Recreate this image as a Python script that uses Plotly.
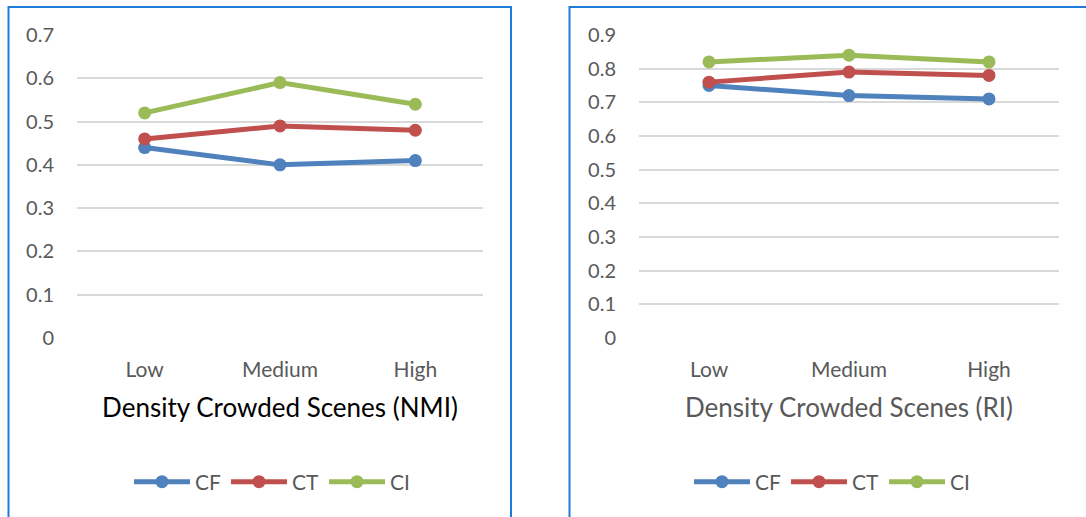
import plotly.graph_objects as go

categories = ["Low", "Medium", "High"]
series_names = ["CF", "CT", "CI"]
nmi_cf = [0.44, 0.40, 0.41]
nmi_ct = [0.46, 0.49, 0.48]
nmi_ci = [0.52, 0.59, 0.54]
ri_cf = [0.75, 0.72, 0.71]
ri_ct = [0.76, 0.79, 0.78]
ri_ci = [0.82, 0.84, 0.82]
colors = ["#4F81BD", "#C0504D", "#9BBB59"]
nmi_ticks = [0, 0.1, 0.2, 0.3, 0.4, 0.5, 0.6, 0.7]
ri_ticks = [0, 0.1, 0.2, 0.3, 0.4, 0.5, 0.6, 0.7, 0.8, 0.9]

W, H = 1086, 517
FONT = "Lato"
GRAY = "#595959"

def px(x):
    return x / W

def py(y):
    return 1 - y / H

fig = go.Figure()

for name, vals, col in zip(series_names, [nmi_cf, nmi_ct, nmi_ci], colors):
    fig.add_trace(go.Scatter(x=categories, y=vals, name=name, mode="lines+markers",
                             line=dict(color=col, width=5), marker=dict(color=col, size=13),
                             xaxis="x", yaxis="y", legend="legend"))
for name, vals, col in zip(series_names, [ri_cf, ri_ct, ri_ci], colors):
    fig.add_trace(go.Scatter(x=categories, y=vals, name=name, mode="lines+markers",
                             line=dict(color=col, width=5), marker=dict(color=col, size=13),
                             xaxis="x2", yaxis="y2", legend="legend2"))

ydom = [py(338), py(35)]
common_x = dict(type="category", showgrid=False, zeroline=False, showline=False,
                tickfont=dict(family=FONT, size=21, color=GRAY), ticks="",
                ticklabelstandoff=17, range=[-0.5, 2.5], automargin=False)
common_y = dict(showgrid=True, gridcolor="#D9D9D9", gridwidth=1.5, zeroline=False,
                showline=False, tickfont=dict(family=FONT, size=20, color=GRAY),
                ticks="", ticklabelstandoff=22, automargin=False)
leg = dict(orientation="h", yanchor="middle", y=py(482),
           font=dict(family=FONT, size=21, color=GRAY), bgcolor="rgba(0,0,0,0)",
           itemwidth=56, tracegroupgap=0, xanchor="center")

fig.update_layout(
    width=W, height=H,
    margin=dict(l=0, r=0, t=0, b=0, autoexpand=False),
    paper_bgcolor="white", plot_bgcolor="white",
    xaxis=dict(domain=[px(77), px(483)], anchor="y",
               title=dict(text="Density Crowded Scenes (NMI)",
                          font=dict(family=FONT, size=26, color="black"), standoff=18),
               **common_x),
    yaxis=dict(domain=ydom, anchor="x", range=[0, 0.7], tickvals=nmi_ticks,
               ticktext=[f"{v:g}" for v in nmi_ticks], **common_y),
    xaxis2=dict(domain=[px(639), px(1059)], anchor="y2",
                title=dict(text="Density Crowded Scenes (RI)",
                           font=dict(family=FONT, size=26, color=GRAY), standoff=18),
                **common_x),
    yaxis2=dict(domain=ydom, anchor="x2", range=[0, 0.9], tickvals=ri_ticks,
                ticktext=[f"{v:g}" for v in ri_ticks], **common_y),
    legend=dict(x=px(272), **leg),
    legend2=dict(x=px(832), **leg),
    shapes=[
        dict(type="rect", xref="paper", yref="paper", x0=px(8.5), x1=px(511), y0=py(530), y1=py(7),
             line=dict(color="#1E7BD8", width=2), fillcolor="rgba(0,0,0,0)", layer="below"),
        dict(type="rect", xref="paper", yref="paper", x0=px(569.5), x1=px(1100), y0=py(530), y1=py(7),
             line=dict(color="#1E7BD8", width=2), fillcolor="rgba(0,0,0,0)", layer="below"),
    ],
)

fig.write_html("out.html")
